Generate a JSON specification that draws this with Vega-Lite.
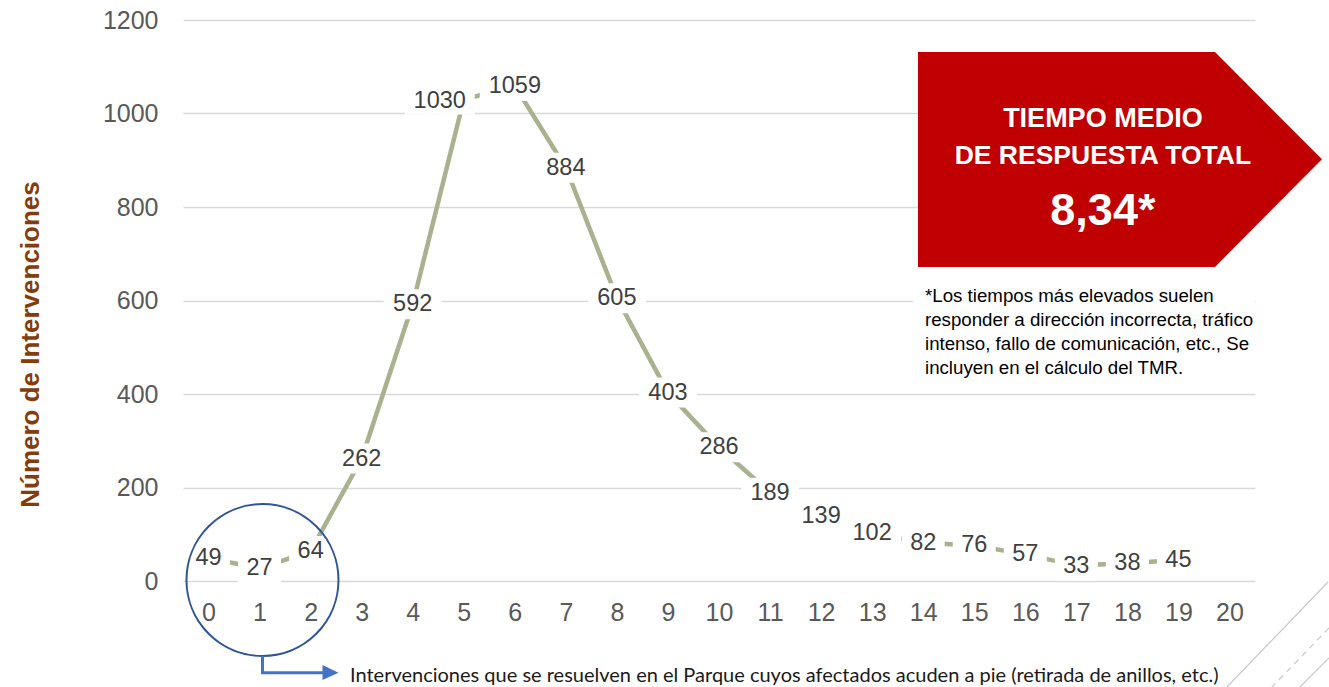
{
  "$schema": "https://vega.github.io/schema/vega-lite/v6.json",
  "width": 1072,
  "height": 561,
  "autosize": {"type": "none"},
  "padding": {"left": 183, "top": 20, "right": 74, "bottom": 106},
  "background": "white",
  "config": {"view": {"stroke": null}, "font": "Liberation Sans"},
  "datasets": {
    "pts": [
      {"k": 0, "v": 49}, {"k": 1, "v": 27}, {"k": 2, "v": 64}, {"k": 3, "v": 262},
      {"k": 4, "v": 592}, {"k": 5, "v": 1030}, {"k": 6, "v": 1059}, {"k": 7, "v": 884},
      {"k": 8, "v": 605}, {"k": 9, "v": 403}, {"k": 10, "v": 286}, {"k": 11, "v": 189},
      {"k": 12, "v": 139}, {"k": 13, "v": 102}, {"k": 14, "v": 82}, {"k": 15, "v": 76},
      {"k": 16, "v": 57}, {"k": 17, "v": 33}, {"k": 18, "v": 38}, {"k": 19, "v": 45}
    ],
    "one": [{"a": 1}]
  },
  "layer": [
    {
      "data": {"name": "pts"},
      "mark": {"type": "line", "color": "#A9B18F", "strokeWidth": 4.5},
      "encoding": {
        "x": {
          "field": "k", "type": "quantitative",
          "scale": {"domain": [-0.5, 20.5], "nice": false, "zero": false},
          "axis": {
            "values": [0,1,2,3,4,5,6,7,8,9,10,11,12,13,14,15,16,17,18,19,20],
            "grid": false, "ticks": false, "domain": false, "title": null,
            "labelFontSize": 25, "labelColor": "#595959", "labelPadding": 19,
            "labelFont": "Liberation Sans", "labelFlush": false, "format": "d"
          }
        },
        "y": {
          "field": "v", "type": "quantitative",
          "scale": {"domain": [0, 1200], "nice": false},
          "axis": {
            "values": [0, 200, 400, 600, 800, 1000, 1200], "format": "d",
            "grid": true, "gridColor": "#D9D9D9", "gridWidth": 1.5,
            "ticks": false, "domain": false,
            "labelFontSize": 25, "labelColor": "#595959", "labelPadding": 25,
            "labelFont": "Liberation Sans",
            "title": "Número de Intervenciones",
            "titleColor": "#843C0C", "titleFontSize": 26, "titleFontWeight": "bold",
            "titleFont": "Liberation Sans",
            "titleX": -153, "titleY": 324, "titleAngle": 270,
            "titleBaseline": "middle", "titleAlign": "center"
          }
        }
      }
    },
    {
      "data": {"name": "pts"},
      "transform": [{"filter": "datum.v < 100"}],
      "mark": {"type": "point", "shape": "M-0.43,-0.3H0.43V0.3H-0.43Z", "size": 10000, "filled": true, "color": "white", "opacity": 1, "strokeWidth": 0},
      "encoding": {"x": {"field": "k", "type": "quantitative"}, "y": {"field": "v", "type": "quantitative"}}
    },
    {
      "data": {"name": "pts"},
      "transform": [{"filter": "datum.v >= 100 && datum.v < 1000"}],
      "mark": {"type": "point", "shape": "M-0.58,-0.3H0.58V0.3H-0.58Z", "size": 10000, "filled": true, "color": "white", "opacity": 1, "strokeWidth": 0},
      "encoding": {"x": {"field": "k", "type": "quantitative"}, "y": {"field": "v", "type": "quantitative"}}
    },
    {
      "data": {"name": "pts"},
      "transform": [{"filter": "datum.v >= 1000 && datum.k != 5"}],
      "mark": {"type": "point", "shape": "M-0.7,-0.3H0.7V0.3H-0.7Z", "size": 10000, "filled": true, "color": "white", "opacity": 1, "strokeWidth": 0},
      "encoding": {"x": {"field": "k", "type": "quantitative"}, "y": {"field": "v", "type": "quantitative"}}
    },
    {
      "data": {"name": "pts"},
      "transform": [{"filter": "datum.k == 5"}],
      "mark": {"type": "point", "shape": "M-1.18,-0.3H0.22V0.3H-1.18Z", "size": 10000, "filled": true, "color": "white", "opacity": 1, "strokeWidth": 0},
      "encoding": {"x": {"field": "k", "type": "quantitative"}, "y": {"field": "v", "type": "quantitative"}}
    },
    {
      "data": {"name": "pts"},
      "transform": [{"filter": "datum.k != 5"}],
      "mark": {"type": "text", "fontSize": 23.5, "color": "#404040", "align": "center", "baseline": "middle", "font": "Liberation Sans"},
      "encoding": {"x": {"field": "k", "type": "quantitative"}, "y": {"field": "v", "type": "quantitative"}, "text": {"field": "v", "type": "quantitative", "format": "d"}}
    },
    {
      "data": {"name": "pts"},
      "transform": [{"filter": "datum.k == 5"}],
      "mark": {"type": "text", "fontSize": 23.5, "color": "#404040", "align": "center", "baseline": "middle", "dx": -24, "dy": 2, "font": "Liberation Sans"},
      "encoding": {"x": {"field": "k", "type": "quantitative"}, "y": {"field": "v", "type": "quantitative"}, "text": {"field": "v", "type": "quantitative", "format": "d"}}
    },
    {
      "data": {"name": "one"},
      "mark": {"type": "point", "shape": "M-0.0,-0.0H3.42V1.03H0Z", "size": 40000, "filled": true, "color": "white", "opacity": 1, "strokeWidth": 0},
      "encoding": {"x": {"datum": 13.8}, "y": {"datum": 640}}
    },
    {
      "data": {"name": "one"},
      "mark": {
        "type": "text", "align": "left", "baseline": "alphabetic",
        "fontSize": 18.7, "lineHeight": 24, "color": "#000000", "font": "Liberation Sans",
        "text": ["*Los tiempos más elevados suelen", "responder a dirección incorrecta, tráfico", "intenso, fallo de comunicación, etc., Se", "incluyen en el cálculo del TMR."]
      },
      "encoding": {"x": {"datum": 14.035}, "y": {"datum": 597.4}}
    },
    {
      "data": {"name": "one"},
      "mark": {"type": "point", "shape": "M-2.094,-1.0825L0.876,-1.0825L1.946,-0.01L0.876,1.0675L-2.094,1.0675Z", "size": 40000, "filled": true, "color": "#C00000", "opacity": 1, "strokeWidth": 0},
      "encoding": {"x": {"datum": 18}, "y": {"datum": 900}}
    },
    {
      "data": {"name": "one"},
      "mark": {"type": "text", "text": "TIEMPO MEDIO", "align": "center", "baseline": "alphabetic", "fontSize": 27, "fontWeight": "bold", "color": "white", "font": "Liberation Sans"},
      "encoding": {"x": {"datum": 17.52}, "y": {"datum": 971}}
    },
    {
      "data": {"name": "one"},
      "mark": {"type": "text", "text": "DE RESPUESTA TOTAL", "align": "center", "baseline": "alphabetic", "fontSize": 26.5, "fontWeight": "bold", "color": "white", "font": "Liberation Sans"},
      "encoding": {"x": {"datum": 17.52}, "y": {"datum": 892}}
    },
    {
      "data": {"name": "one"},
      "mark": {"type": "text", "text": "8,34*", "align": "center", "baseline": "alphabetic", "fontSize": 45, "fontWeight": "bold", "color": "white", "font": "Liberation Sans"},
      "encoding": {"x": {"datum": 17.52}, "y": {"datum": 761.5}}
    },
    {
      "data": {"name": "one"},
      "mark": {"type": "point", "shape": "circle", "size": 23104, "filled": false, "color": "#2F5597", "strokeWidth": 2, "opacity": 1},
      "encoding": {"x": {"datum": 1.057}, "y": {"datum": 2}}
    },
    {
      "data": {"name": "one"},
      "mark": {"type": "point", "shape": "M0,0.76V0.927H0.62", "size": 40000, "filled": false, "color": "#4472C4", "strokeWidth": 3, "opacity": 1},
      "encoding": {"x": {"datum": 1.057}, "y": {"datum": 2}}
    },
    {
      "data": {"name": "one"},
      "mark": {"type": "point", "shape": "M0.6,0.85L0.76,0.927L0.6,1.0Z", "size": 40000, "filled": true, "color": "#4472C4", "strokeWidth": 0, "opacity": 1},
      "encoding": {"x": {"datum": 1.057}, "y": {"datum": 2}}
    },
    {
      "data": {"name": "one"},
      "mark": {"type": "text", "text": "Intervenciones que se resuelven en el Parque cuyos afectados acuden a pie (retirada de anillos, etc.)", "align": "left", "baseline": "middle", "fontSize": 20, "color": "#1A1A1A", "font": "Lato"},
      "encoding": {"x": {"datum": 2.771}, "y": {"datum": -203.2}}
    },
    {
      "data": {"name": "one"},
      "mark": {"type": "point", "shape": "M0.985,0.01L-0.025,1.06M0.995,0.77L0.705,1.06", "size": 40000, "filled": false, "color": "#C8C8C8", "strokeWidth": 1.2, "opacity": 1},
      "encoding": {"x": {"datum": 20}, "y": {"datum": 0}}
    },
    {
      "data": {"name": "one"},
      "mark": {"type": "point", "shape": "M0.995,0.47L0.425,1.06", "size": 40000, "filled": false, "color": "#C8C8C8", "strokeWidth": 1.2, "strokeDash": [6, 5], "opacity": 1},
      "encoding": {"x": {"datum": 20}, "y": {"datum": 0}}
    }
  ]
}
